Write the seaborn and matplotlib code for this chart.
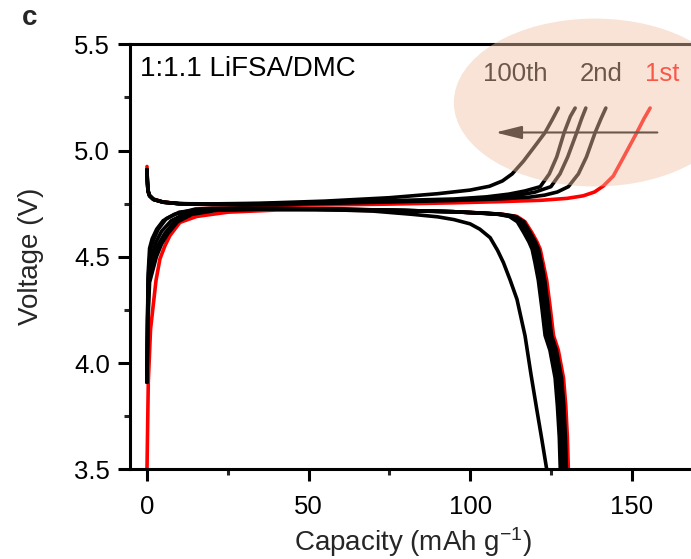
import matplotlib
matplotlib.use("Agg")
import matplotlib.pyplot as plt
from matplotlib.patches import Ellipse
import seaborn as sns
import numpy as np
import pandas as pd

# ---------------- data ----------------
# Charge-type curves (upper branch), capacity (mAh/g) and voltage (V)
ch_1st_x = [0, 0.1, 0.3, 0.8, 2, 5, 10, 20, 35, 55, 75, 95, 110, 122, 130, 135, 138.5, 141.2, 144.3, 147, 149.3, 151.6, 153.8, 155.7]
ch_1st_v = [4.925, 4.87, 4.815, 4.79, 4.772, 4.758, 4.75, 4.745, 4.742, 4.744, 4.748, 4.754, 4.76, 4.766, 4.775, 4.787, 4.805, 4.833, 4.88, 4.955, 5.02, 5.085, 5.15, 5.2]

ch_2nd_x = [0, 0.1, 0.3, 0.8, 2, 5, 10, 20, 35, 55, 75, 95, 110, 118, 123, 127, 130.4, 133.5, 136, 138.7, 140.5, 142]
ch_2nd_v = [4.91, 4.86, 4.81, 4.787, 4.77, 4.757, 4.75, 4.746, 4.746, 4.751, 4.758, 4.765, 4.773, 4.78, 4.79, 4.805, 4.83, 4.89, 4.97, 5.085, 5.15, 5.2]

ch_b3_x = [0, 0.1, 0.3, 0.8, 2, 5, 10, 20, 35, 55, 75, 95, 108, 115, 120, 125, 127.8, 130.2, 133, 134.5, 135.8]
ch_b3_v = [4.91, 4.86, 4.81, 4.787, 4.77, 4.757, 4.75, 4.747, 4.748, 4.754, 4.761, 4.768, 4.777, 4.79, 4.804, 4.83, 4.89, 4.97, 5.085, 5.15, 5.2]

ch_b2_x = [0, 0.1, 0.3, 0.8, 2, 5, 10, 20, 35, 55, 75, 95, 105, 112, 117, 121.7, 124.5, 126.8, 129.1, 131, 132.5]
ch_b2_v = [4.91, 4.86, 4.81, 4.787, 4.77, 4.757, 4.75, 4.748, 4.75, 4.756, 4.764, 4.772, 4.782, 4.795, 4.81, 4.83, 4.89, 4.97, 5.085, 5.16, 5.2]

ch_100_x = [0, 0.1, 0.3, 0.8, 2, 5, 10, 20, 35, 55, 75, 90, 100, 106, 110, 113, 116.5, 120, 123.2, 125.4, 127.3]
ch_100_v = [4.91, 4.86, 4.81, 4.787, 4.77, 4.757, 4.75, 4.749, 4.752, 4.762, 4.778, 4.797, 4.814, 4.832, 4.857, 4.89, 4.95, 5.02, 5.085, 5.145, 5.2]

# Discharge-type curves (lower branch)
dc_1st_x = [0, 0.4, 1.1, 2.8, 4, 5.5, 7.1, 10.2, 15.4, 25, 40, 60, 80, 95, 105, 110, 114.5, 117, 119.1, 120.7, 121.7, 122.6, 123.7, 124.8, 125.8, 127.3, 128.9, 129.6, 130.1, 130.4]
dc_1st_v = [3.5, 3.91, 4.16, 4.39, 4.49, 4.55, 4.6, 4.662, 4.69, 4.71, 4.72, 4.72, 4.716, 4.712, 4.705, 4.7, 4.69, 4.665, 4.614, 4.57, 4.535, 4.47, 4.39, 4.26, 4.13, 4.06, 3.93, 3.8, 3.65, 3.5]

dc_b1_x = [0, 0.3, 0.8, 2.9, 4.5, 6.5, 9.5, 14, 22, 40, 60, 80, 95, 105, 110, 114, 116.6, 118.6, 120.2, 121.2, 122.1, 123.1, 124.2, 125.2, 126.7, 128.3, 129.0, 129.5, 129.8]
dc_b1_v = [3.91, 4.2, 4.38, 4.5, 4.56, 4.61, 4.665, 4.7, 4.72, 4.725, 4.722, 4.717, 4.712, 4.705, 4.7, 4.69, 4.665, 4.614, 4.57, 4.535, 4.47, 4.39, 4.26, 4.13, 4.06, 3.93, 3.8, 3.65, 3.5]

dc_b2_x = [0, 0.25, 0.6, 2.2, 3.6, 5.5, 8.5, 13, 21, 40, 60, 80, 95, 104.5, 109.5, 113.4, 115.9, 117.9, 119.5, 120.5, 121.4, 122.4, 123.5, 124.5, 126, 127.6, 128.3, 128.8, 129.1]
dc_b2_v = [3.91, 4.2, 4.39, 4.5, 4.56, 4.61, 4.665, 4.7, 4.72, 4.726, 4.723, 4.718, 4.712, 4.705, 4.7, 4.69, 4.665, 4.614, 4.57, 4.535, 4.47, 4.39, 4.26, 4.13, 4.06, 3.93, 3.8, 3.65, 3.5]

dc_b3_x = [0, 0.2, 0.5, 1.6, 2.8, 4.5, 7.5, 12, 20, 40, 60, 80, 95, 104, 109, 112.7, 115.2, 117.2, 118.8, 119.8, 120.7, 121.7, 122.8, 123.8, 125.3, 126.9, 127.6, 128.1, 128.4]
dc_b3_v = [3.91, 4.2, 4.4, 4.51, 4.57, 4.62, 4.67, 4.705, 4.722, 4.727, 4.724, 4.718, 4.712, 4.705, 4.7, 4.69, 4.665, 4.614, 4.57, 4.535, 4.47, 4.39, 4.26, 4.13, 4.06, 3.93, 3.8, 3.65, 3.5]

dc_b4_x = [0, 0.15, 0.4, 1.0, 2.0, 3.5, 6, 10, 18, 40, 60, 80, 95, 103.5, 108.5, 112.1, 114.6, 116.6, 118.2, 119.2, 120.1, 121.1, 122.2, 123.2, 124.7, 126.3, 127.0, 127.6, 127.9]
dc_b4_v = [3.91, 4.2, 4.4, 4.53, 4.58, 4.63, 4.68, 4.71, 4.725, 4.728, 4.724, 4.718, 4.712, 4.705, 4.7, 4.69, 4.665, 4.614, 4.57, 4.535, 4.47, 4.39, 4.26, 4.13, 4.06, 3.93, 3.8, 3.65, 3.5]

dc_100_x = [0, 0.15, 0.35, 0.8, 1.6, 3, 5, 8.5, 15, 30, 50, 70, 82, 90, 95, 100, 103, 106.2, 108.5, 110.3, 112.4, 114.5, 117, 118.8, 120.6, 122.2, 123.7]
dc_100_v = [3.91, 4.2, 4.42, 4.54, 4.585, 4.63, 4.67, 4.7, 4.725, 4.73, 4.725, 4.715, 4.7, 4.688, 4.675, 4.655, 4.63, 4.59, 4.53, 4.473, 4.39, 4.3, 4.128, 3.95, 3.784, 3.64, 3.5]

x_ticks = [0, 50, 100, 150]
y_ticks = [3.5, 4.0, 4.5, 5.0, 5.5]
y_tick_labels = ["3.5", "4.0", "4.5", "5.0", "5.5"]
cycle_labels = ["100th", "2nd", "1st"]
cycle_label_x = [114.0, 140.7, 159.5]
cycle_label_y = 5.36

# ---------------- style ----------------
sns.set_style("white")
plt.rcParams["font.family"] = ["Liberation Sans", "DejaVu Sans"]
plt.rcParams["mathtext.fontset"] = "custom"
plt.rcParams["mathtext.rm"] = "Liberation Sans"
plt.rcParams["mathtext.it"] = "Liberation Sans:italic"
plt.rcParams["mathtext.bf"] = "Liberation Sans:bold"

FS = 18.5
FS_LAB = 20
fig = plt.figure(figsize=(6.91, 5.59), dpi=100)
ax = fig.add_axes([130 / 691, 89.7 / 559, 590 / 691, 425 / 559])

RED = "#ff0000"
LW = 2.6

def draw(xs, vs, color, z):
    df = pd.DataFrame({"x": xs, "v": vs})
    sns.lineplot(data=df, x="x", y="v", sort=False, estimator=None, color=color,
                 lw=LW, ax=ax, zorder=z, solid_capstyle="round", solid_joinstyle="round")

# red first (underneath), black on top
draw(dc_1st_x, dc_1st_v, RED, 2)
draw(ch_1st_x, ch_1st_v, RED, 2)
for xs, vs in [(dc_b1_x, dc_b1_v), (dc_b2_x, dc_b2_v), (dc_b3_x, dc_b3_v),
               (dc_b4_x, dc_b4_v), (dc_100_x, dc_100_v),
               (ch_2nd_x, ch_2nd_v), (ch_b3_x, ch_b3_v), (ch_b2_x, ch_b2_v),
               (ch_100_x, ch_100_v)]:
    draw(xs, vs, "black", 3)

ax.set_xlim(-5.26, 177.33)
ax.set_ylim(3.5, 5.5)

# spines
for s in ["left", "bottom", "top"]:
    ax.spines[s].set_visible(True)
    ax.spines[s].set_linewidth(2.2)
    ax.spines[s].set_color("black")
ax.spines["right"].set_visible(False)

ax.set_xticks(x_ticks)
ax.set_xticks([25, 75, 125, 175], minor=True)
ax.set_yticks(y_ticks)
ax.set_yticklabels(y_tick_labels)
ax.set_yticks([3.75, 4.25, 4.75, 5.25], minor=True)
ax.tick_params(axis="both", which="major", direction="out", length=8.5, width=2.2,
               labelsize=FS, colors="black", top=False, right=False, left=True, bottom=True)
ax.tick_params(axis="both", which="minor", direction="out", length=4.5, width=2.2,
               top=False, right=False, left=True, bottom=True)
ax.tick_params(axis="y", which="major", pad=6)
ax.tick_params(axis="x", which="major", pad=10)

ax.set_xlabel("Capacity (mAh g$^{\u2212\mathregular{1}}$)", fontsize=FS_LAB)
ax.set_ylabel("Voltage (V)", fontsize=FS_LAB)
ax.xaxis.set_label_coords(0.48, -0.132)
ax.yaxis.set_label_coords(-0.145, 0.5)

ax.text(0.017, 0.942, "1:1.1 LiFSA/DMC", transform=ax.transAxes, fontsize=FS_LAB,
        ha="left", va="center", color="black")

fig.text(30 / 691, 1 - 18 / 559, "c", fontsize=20, fontweight="bold", ha="center", va="center")

# cycle labels and arrow (beneath the translucent ellipse)
for lab, lx in zip(cycle_labels, cycle_label_x):
    ax.text(lx, cycle_label_y, lab, fontsize=FS, ha="center", va="center",
            color=RED if lab == "1st" else "black", zorder=4)
ax.annotate("", xy=(107, 5.085), xytext=(158.8, 5.085),
            arrowprops=dict(arrowstyle="-|>,head_length=0.8,head_width=0.2",
                            mutation_scale=20, lw=1.5, color="black"), zorder=4)

ell = Ellipse((138.6, 5.226), width=87.3, height=0.79, facecolor=(240 / 255, 195 / 255, 165 / 255),
              alpha=0.45, edgecolor="none", zorder=10, clip_on=False)
ax.add_patch(ell)

fig.savefig("out.png", dpi=100)
